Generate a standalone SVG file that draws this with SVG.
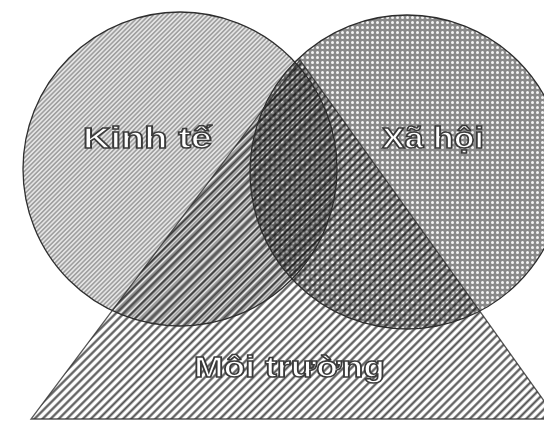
<svg xmlns="http://www.w3.org/2000/svg" width="544" height="421" viewBox="0 0 544 421">
  <defs>
    <pattern id="stripes" patternUnits="userSpaceOnUse" width="5.7" height="5.7" patternTransform="rotate(45)">
      <rect width="5.7" height="5.7" fill="#ffffff"/>
      <line x1="1.4" y1="0" x2="1.4" y2="5.7" stroke="#505050" stroke-width="2.1"/>
    </pattern>
    <pattern id="hatch" patternUnits="userSpaceOnUse" width="3.2" height="3.2" patternTransform="rotate(45)">
      <rect width="3.2" height="3.2" fill="#e4e4e4"/>
      <line x1="0.8" y1="0" x2="0.8" y2="3.2" stroke="#8a8a8a" stroke-width="1.2"/>
    </pattern>
    <pattern id="dots" patternUnits="userSpaceOnUse" width="5" height="5">
      <rect width="5" height="5" fill="#8a8a8a"/>
      <circle cx="2.5" cy="2.5" r="1.5" fill="#f4f4f4"/>
    </pattern>
  </defs>
  <style>
    .outline { fill: none; stroke: #2e2e2e; stroke-width: 1.3; }
    .blend { mix-blend-mode: multiply; }
    .label { font-family: "Liberation Sans", Arial, sans-serif; font-weight: bold; font-size: 29px; fill: #ffffff; stroke: #3a3a3a; stroke-width: 1.5; }
  </style>
  <rect width="544" height="421" fill="#ffffff"/>
  <g id="node-moi-truong">
    <polygon points="300,60 31,419 557,419" fill="url(#stripes)"/>
  </g>
  <g id="node-kinh-te">
    <circle class="blend" cx="180" cy="169" r="157" fill="url(#hatch)"/>
  </g>
  <g id="node-xa-hoi">
    <circle class="blend" cx="407" cy="172" r="157" fill="url(#dots)"/>
  </g>
  <g id="outlines">
    <polygon class="outline" points="300,60 31,419 557,419" stroke-opacity="0.8"/>
    <circle class="outline" cx="180" cy="169" r="157"/>
    <circle class="outline" cx="407" cy="172" r="157"/>
  </g>
  <g id="labels">
    <text class="label" x="83" y="148" textLength="129" lengthAdjust="spacingAndGlyphs">Kinh tế</text>
    <text class="label" x="382" y="148" textLength="102" lengthAdjust="spacingAndGlyphs">Xã hội</text>
    <text class="label" x="194" y="377" textLength="191" lengthAdjust="spacingAndGlyphs">Môi trường</text>
  </g>
</svg>
